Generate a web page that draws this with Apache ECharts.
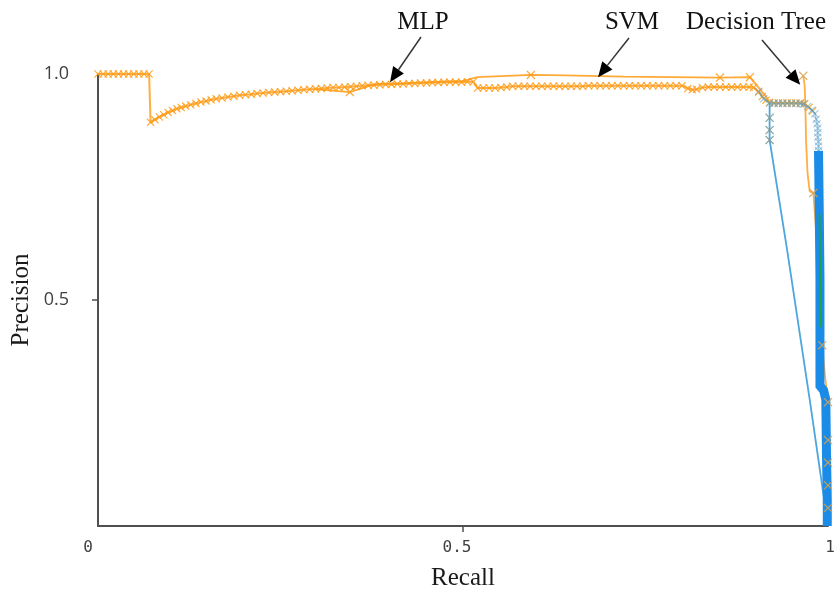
<!DOCTYPE html>
<html>
<head>
<meta charset="utf-8">
<script src="https://cdn.jsdelivr.net/npm/echarts@6/dist/echarts.min.js"></script>
<style>
  html, body { margin: 0; padding: 0; background: #ffffff; }
  #chart { width: 834px; height: 593px; }
</style>
</head>
<body>
<div id="chart"></div>
<script>
// Precision-recall curves, each point is [recall, precision]

// MLP: dense curve with a marker at every threshold
const mlpPoints = [
  [0.000,1.000],[0.007,1.000],[0.014,1.000],[0.021,1.000],[0.028,1.000],[0.035,1.000],
  [0.042,1.000],[0.049,1.000],[0.056,1.000],[0.063,1.000],[0.070,1.000],[0.072,0.893],
  [0.078,0.899],[0.084,0.905],[0.090,0.910],[0.096,0.915],[0.102,0.919],[0.108,0.923],
  [0.114,0.926],[0.120,0.929],[0.127,0.932],[0.134,0.935],[0.141,0.938],[0.148,0.940],
  [0.155,0.943],[0.162,0.945],[0.170,0.947],[0.178,0.949],[0.186,0.951],[0.194,0.953],
  [0.202,0.954],[0.210,0.955],[0.218,0.957],[0.226,0.958],[0.234,0.959],[0.242,0.960],
  [0.250,0.961],[0.258,0.962],[0.266,0.963],[0.274,0.964],[0.282,0.965],[0.290,0.966],
  [0.298,0.967],[0.306,0.968],[0.314,0.969],[0.322,0.970],[0.330,0.970],[0.338,0.971],
  [0.346,0.972],[0.354,0.973],[0.362,0.974],[0.370,0.975],[0.378,0.975],[0.386,0.976],
  [0.394,0.977],[0.402,0.977],[0.410,0.978],[0.418,0.978],[0.426,0.979],[0.434,0.979],
  [0.442,0.980],[0.450,0.980],[0.458,0.981],[0.466,0.981],[0.474,0.982],[0.482,0.982],
  [0.490,0.982],[0.498,0.982],[0.506,0.983],[0.514,0.983],[0.520,0.969],[0.528,0.969],
  [0.536,0.969],[0.544,0.969],[0.552,0.970],[0.560,0.971],[0.568,0.973],[0.576,0.973],
  [0.584,0.973],[0.592,0.973],[0.600,0.973],[0.608,0.973],[0.616,0.973],[0.624,0.973],
  [0.632,0.973],[0.640,0.973],[0.648,0.973],[0.656,0.973],[0.664,0.973],[0.672,0.974],
  [0.680,0.974],[0.688,0.974],[0.696,0.974],[0.704,0.974],[0.712,0.974],[0.720,0.974],
  [0.728,0.974],[0.736,0.974],[0.744,0.974],[0.752,0.974],[0.760,0.974],[0.768,0.974],
  [0.776,0.974],[0.784,0.974],[0.792,0.974],[0.800,0.974],[0.808,0.968],[0.814,0.965],
  [0.820,0.966],[0.828,0.970],[0.836,0.971],[0.844,0.971],[0.852,0.971],[0.860,0.971],
  [0.868,0.971],[0.876,0.971],[0.884,0.971],[0.892,0.971],[0.898,0.970],[0.905,0.960],
  [0.910,0.950],[0.915,0.942],[0.920,0.937],[0.926,0.936],[0.932,0.936],[0.938,0.936],
  [0.944,0.936],[0.950,0.936],[0.956,0.936],[0.962,0.936],[0.968,0.934],[0.974,0.926],
  [0.979,0.918]
];

// SVM: thin line, markers only at a few thresholds
const svmPoints = [
  [0.300,0.966],[0.345,0.960],[0.380,0.978],[0.420,0.980],[0.470,0.983],[0.500,0.985],
  [0.520,0.993],[0.593,0.998],[0.640,0.997],[0.720,0.994],[0.852,0.992],[0.893,0.993],
  [0.905,0.970],[0.915,0.950],[0.920,0.938]
];
const svmMarkers = [[0.345,0.960],[0.593,0.998],[0.852,0.992],[0.893,0.993]];

// Decision Tree: few thresholds, steep drop near full recall
const treePoints = [
  [0.966,0.996],[0.968,0.975],[0.969,0.930],[0.970,0.850],[0.972,0.780],[0.975,0.740],
  [0.980,0.737],[0.986,0.600],[0.990,0.450],[0.992,0.400],[0.996,0.330],[1.000,0.274],
  [1.000,0.000]
];
const treeMarkers = [
  [0.966,0.996],[0.980,0.737],[0.992,0.400],[1.000,0.274],[1.000,0.190],[1.000,0.140],
  [1.000,0.090],[1.000,0.040]
];

// Light blue curve: drops from the plateau straight to zero precision
const lightBluePoints = [
  [0.920,0.936],[0.920,0.903],[0.920,0.876],[0.920,0.854],[0.944,0.611],[0.975,0.279],
  [1.000,0.000]
];
const lightBlueMarkers = [[0.920,0.903],[0.920,0.876],[0.920,0.854]];

// Blue curve running along the plateau and down the right edge
const bluePlateauPoints = [
  [0.905,0.962],[0.912,0.945],[0.920,0.936],[0.926,0.935],[0.932,0.935],[0.938,0.935],
  [0.944,0.935],[0.950,0.935],[0.956,0.935],[0.962,0.934],[0.966,0.933],[0.972,0.928],
  [0.978,0.920],[0.982,0.912],[0.984,0.900],[0.985,0.890],[0.986,0.880],[0.986,0.870],
  [0.986,0.860],[0.987,0.850],[0.987,0.840],[0.987,0.830],[0.987,0.820],[0.988,0.810]
];
const blueEdgePoints = [
  [0.987,0.830],[0.988,0.700],[0.989,0.550],[0.989,0.310],[0.994,0.300],[0.997,0.280],
  [0.998,0.150],[0.999,0.060],[0.999,0.000]
];
const greenPoints = [[0.9885,0.690],[0.989,0.580],[0.990,0.440]];

// Axis tick labels
const xTickValues = [0, 0.5, 1];
const xTickLabels = ['0', '0.5', '1'];
const yTickValues = [0.5, 1];
const yTickLabels = ['0.5', '1.0'];

// Callout labels: text and the [recall, precision] point each arrow targets
const calloutTexts = ['MLP', 'SVM', 'Decision Tree'];
const calloutTargets = [[0.400, 0.982], [0.685, 0.993], [0.962, 0.976]];

const ORANGE = '#ff9a14';
const LIGHT_BLUE = '#4ea6de';
const BLUE = '#1a8ce8';
const GREEN = '#1fa444';
const CROSS = 'path://M0,1L1,0L5,4L9,0L10,1L6,5L10,9L9,10L5,6L1,10L0,9L4,5Z';

const chart = echarts.init(document.getElementById('chart'), null, { renderer: 'canvas' });

function crossSeries(data, color, size, opacity, z) {
  return {
    type: 'scatter', data: data, symbol: CROSS, symbolSize: size, z: z,
    itemStyle: { color: color, opacity: opacity }, silent: true, clip: false
  };
}

const option = {
  animation: false,
  backgroundColor: '#ffffff',
  grid: { left: 98, right: 6, top: 74, bottom: 67, outerBoundsMode: 'none', containLabel: false },
  xAxis: {
    type: 'value', min: 0, max: 1, interval: 0.5,
    name: 'Recall', nameLocation: 'middle', nameGap: 40, nameMoveOverlap: false,
    nameTextStyle: { fontFamily: 'Liberation Serif', fontSize: 25, color: '#1a1a1a' },
    axisLine: { show: true, onZero: false, lineStyle: { color: '#505050', width: 2 } },
    axisTick: { show: true, customValues: [0.5], length: 6, lineStyle: { color: '#505050', width: 1.5 } },
    axisLabel: {
      customValues: xTickValues, margin: 14,
      formatter: function (v) {
        const i = xTickValues.indexOf(v);
        const t = i >= 0 ? xTickLabels[i] : '';
        if (v === 0) return '{z|' + t + '}';
        if (v === 0.5) return '{h|' + t + '}';
        return '{o|' + t + '}';
      },
      rich: {
        z: { fontFamily: 'DejaVu Sans Mono', fontSize: 16, color: '#404040', padding: [0, 20, 0, 0] },
        h: { fontFamily: 'DejaVu Sans Mono', fontSize: 16, color: '#404040', padding: [0, 12, 0, 0] },
        o: { fontFamily: 'DejaVu Sans Mono', fontSize: 16, color: '#404040', padding: [0, 0, 0, 4] }
      }
    },
    splitLine: { show: false }
  },
  yAxis: {
    type: 'value', min: 0, max: 1, interval: 0.5,
    name: 'Precision', nameLocation: 'middle', nameGap: 64, nameMoveOverlap: false,
    nameTextStyle: { fontFamily: 'Liberation Serif', fontSize: 25, color: '#1a1a1a' },
    axisLine: { show: true, onZero: false, lineStyle: { color: '#505050', width: 2 } },
    axisTick: { show: true, customValues: [0.5], length: 6, lineStyle: { color: '#505050', width: 1.5 } },
    axisLabel: {
      customValues: yTickValues, margin: 29,
      fontFamily: 'Open Sans', fontSize: 18, color: '#404040',
      formatter: function (v) {
        const i = yTickValues.indexOf(v);
        return i >= 0 ? yTickLabels[i] : '';
      }
    },
    splitLine: { show: false }
  },
  series: [
    {
      type: 'line', data: mlpPoints, z: 3, clip: false,
      symbol: CROSS, symbolSize: 8, showAllSymbol: true,
      lineStyle: { color: ORANGE, width: 2, opacity: 0.8 },
      itemStyle: { color: ORANGE, opacity: 0.85 }
    },
    {
      type: 'line', data: svmPoints, z: 3, showSymbol: false, clip: false,
      lineStyle: { color: ORANGE, width: 1.8, opacity: 0.85 }
    },
    crossSeries(svmMarkers, ORANGE, 9, 0.85, 4),
    {
      type: 'line', data: treePoints, z: 2, showSymbol: false, clip: false,
      lineStyle: { color: ORANGE, width: 1.8, opacity: 0.8 }
    },
    {
      type: 'line', data: lightBluePoints, z: 4, showSymbol: false, clip: false,
      lineStyle: { color: LIGHT_BLUE, width: 1.8 }
    },
    crossSeries(lightBlueMarkers, '#7f9f98', 9, 0.9, 5),
    {
      type: 'line', data: bluePlateauPoints, z: 5, clip: false,
      symbol: CROSS, symbolSize: 8, showAllSymbol: true,
      lineStyle: { color: LIGHT_BLUE, width: 1.5, opacity: 0.55 },
      itemStyle: { color: '#5b9fc4', opacity: 0.55 }
    },
    {
      type: 'line', data: blueEdgePoints, z: 6, showSymbol: false, clip: false,
      lineStyle: { color: BLUE, width: 9, cap: 'butt', join: 'miter' }
    },
    {
      type: 'line', data: greenPoints, z: 7, showSymbol: false, clip: false,
      lineStyle: { color: GREEN, width: 1.8 }
    },
    crossSeries(treeMarkers, '#d9a050', 9, 0.85, 8)
  ]
};

chart.setOption(option);

// Callout arrows: text sits above the plot, arrow head ends on the curve
const calloutTextPos = [[423, 22], [632, 22], [756, 22]];
const calloutStart = [[421, 37], [629, 38], [762, 40]];
const graphics = [];
calloutTexts.forEach(function (txt, i) {
  const tip = chart.convertToPixel({ gridIndex: 0 }, calloutTargets[i]);
  const s = calloutStart[i];
  const dx = tip[0] - s[0], dy = tip[1] - s[1];
  const len = Math.sqrt(dx * dx + dy * dy);
  const ux = dx / len, uy = dy / len;
  const headLen = 15, headHalf = 6.5;
  const bx = tip[0] - ux * headLen, by = tip[1] - uy * headLen;
  graphics.push({
    type: 'text', x: calloutTextPos[i][0], y: calloutTextPos[i][1], z: 20,
    style: { text: txt, fontFamily: 'Liberation Serif', fontSize: 25, fill: '#111111',
             align: 'center', verticalAlign: 'middle' }
  });
  graphics.push({
    type: 'line', z: 20,
    shape: { x1: s[0], y1: s[1], x2: bx, y2: by },
    style: { stroke: '#333333', lineWidth: 1.5 }
  });
  graphics.push({
    type: 'polygon', z: 20,
    shape: { points: [[tip[0], tip[1]],
                      [bx - uy * headHalf, by + ux * headHalf],
                      [bx + uy * headHalf, by - ux * headHalf]] },
    style: { fill: '#000000' }
  });
});
chart.setOption({ graphic: graphics });
</script>
</body>
</html>
